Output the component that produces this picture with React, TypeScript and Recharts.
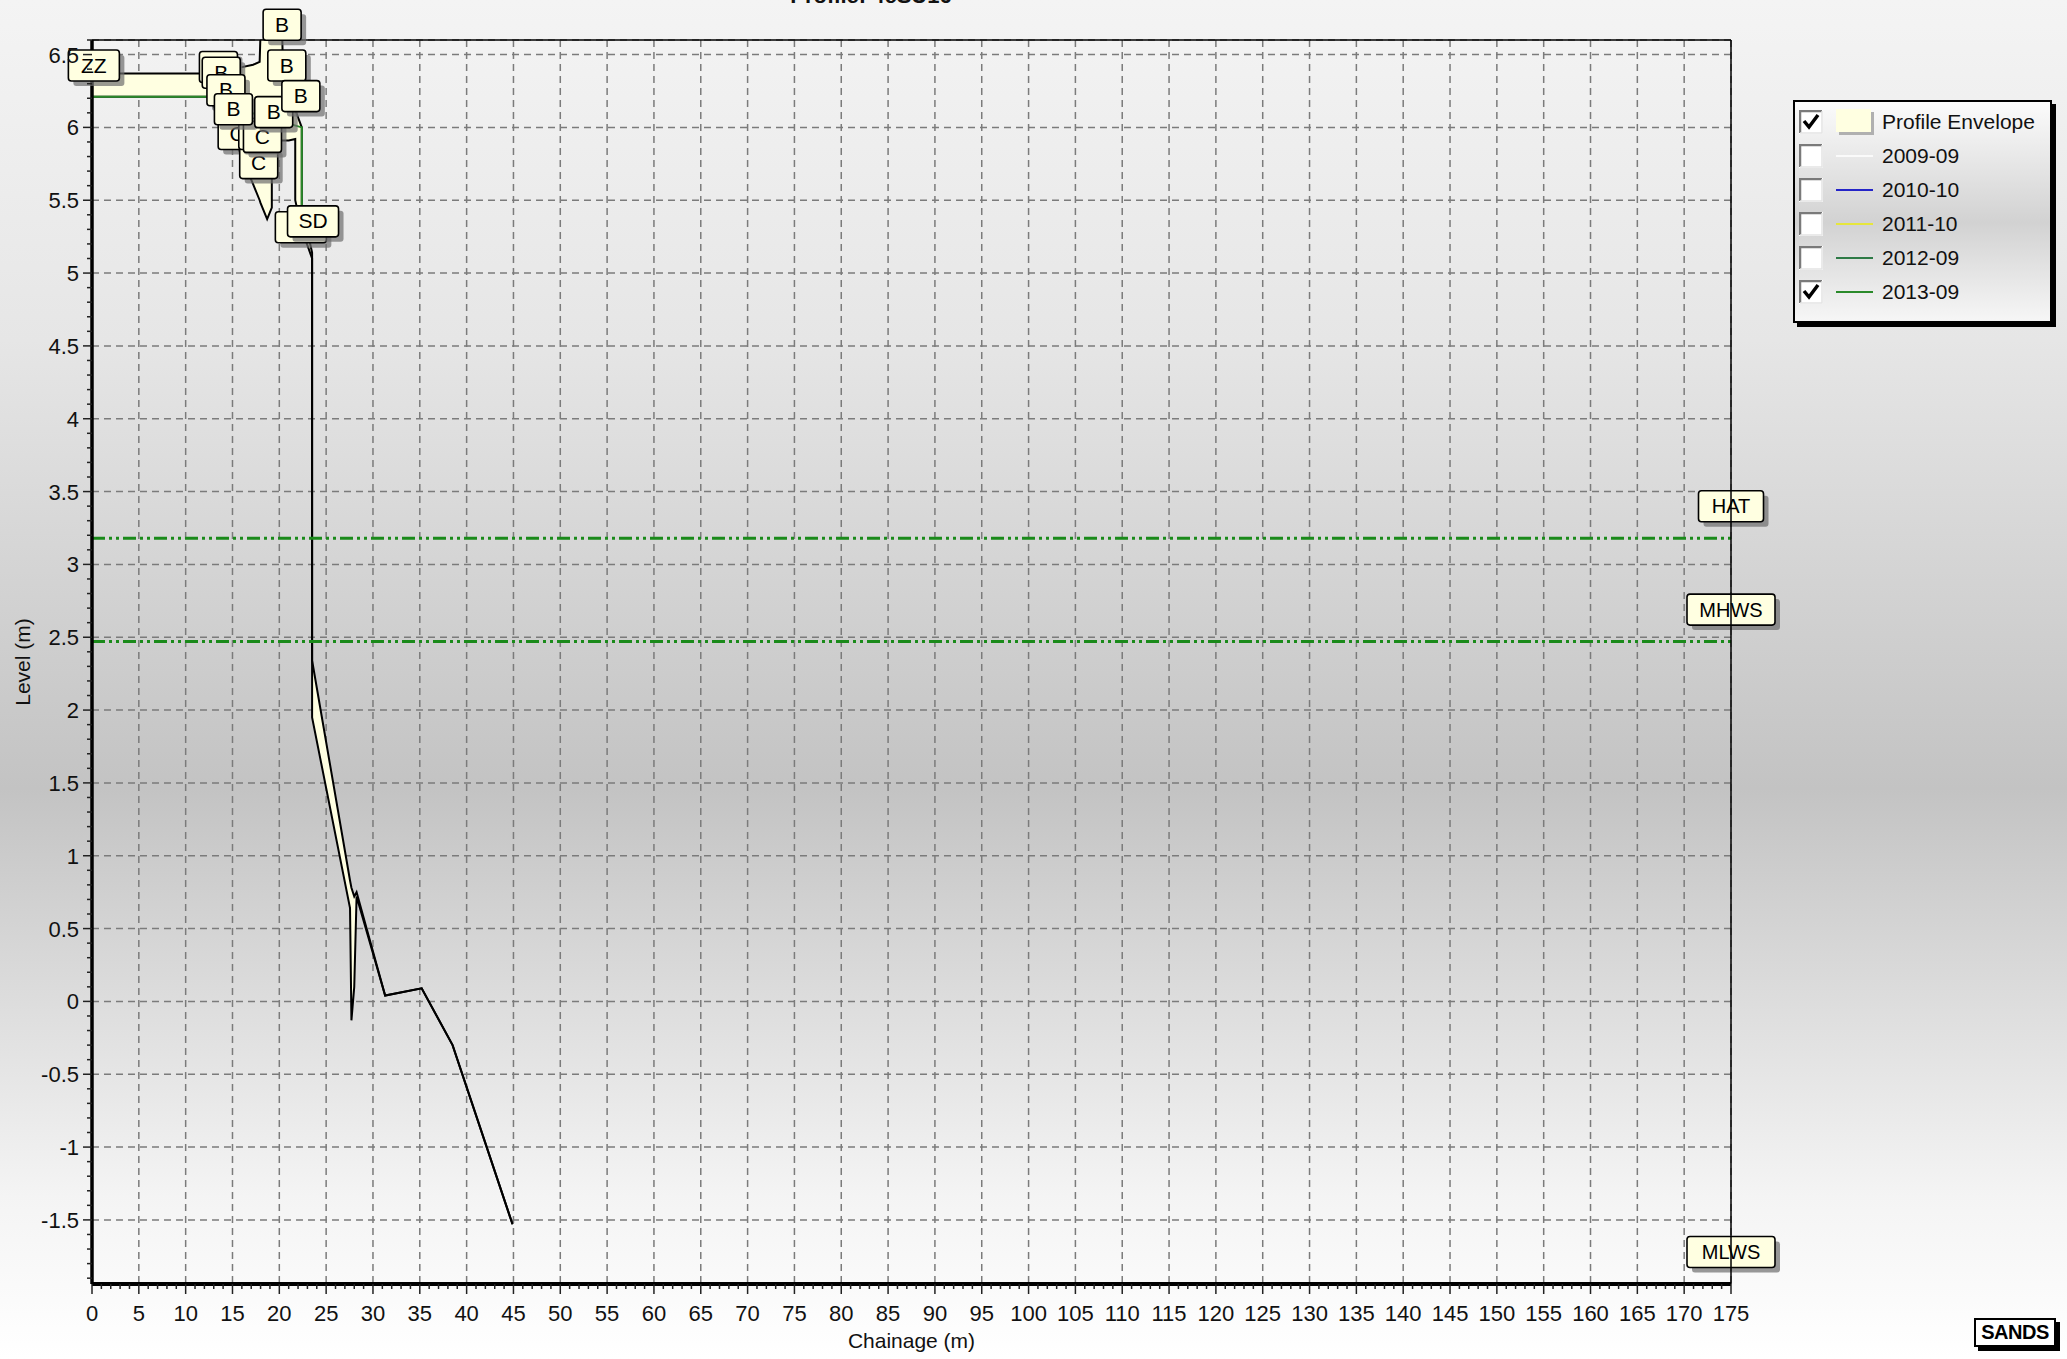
import React from 'react';
import {
  ComposedChart,
  Area,
  Line,
  XAxis,
  YAxis,
  CartesianGrid,
  ReferenceLine,
  ReferenceDot,
} from 'recharts';

const W = 2067;
const H = 1359;

// axis ticks
const chainageTicks = [
  0, 5, 10, 15, 20, 25, 30, 35, 40, 45, 50, 55, 60, 65, 70, 75, 80, 85, 90,
  95, 100, 105, 110, 115, 120, 125, 130, 135, 140, 145, 150, 155, 160, 165,
  170, 175,
];
const levelTicks = [
  -1.5, -1, -0.5, 0, 0.5, 1, 1.5, 2, 2.5, 3, 3.5, 4, 4.5, 5, 5.5, 6, 6.5,
];
const chainageMinorTicks = Array.from({ length: 176 }, (_, i) => i);
const levelMinorTicks = Array.from({ length: 86 }, (_, i) => (i - 19) / 10);

// profile envelope (min / max of all surveys)
const envelopeChainage = [
  0, 12.3, 15.0, 17.2, 17.9, 18.0, 18.7, 19.2, 19.2, 20.3, 20.4, 21.0, 21.7,
  21.7, 22.4, 22.4, 23.5, 23.5, 23.5, 27.55, 27.7, 28.0, 28.25, 31.3, 35.2,
  38.5, 44.9,
];
const envelopeLow = [
  6.21, 6.21, 5.95, 5.61, 5.5, 5.48, 5.37, 5.45, 5.9, 5.91, 5.91, 5.91, 5.92,
  5.5, 5.3, 5.3, 5.1, 4.25, 1.95, 0.64, -0.13, 0.1, 0.72, 0.04, 0.09, -0.3,
  -1.53,
];
const envelopeHigh = [
  6.37, 6.37, 6.4, 6.43, 6.45, 6.66, 6.66, 6.66, 6.66, 6.66, 6.37, 6.3, 6.12,
  6.12, 6.0, 5.46, 5.14, 4.9, 2.34, 0.83, 0.78, 0.72, 0.75, 0.04, 0.09, -0.3,
  -1.53,
];

// 2013-09 survey
const profileChainage = [0, 12.3, 17.0, 22.4, 22.4];
const profileLevel = [6.21, 6.21, 6.1, 6.0, 5.46];

// feature codes along the profile
const featureCodes = ['ZZ', 'B', 'B', 'B', 'B', 'C', 'C', 'C', 'C', 'B', 'B', 'B', 'B', 'SD', 'SD'];
const featureChainage = [0.2, 20.3, 13.5, 13.8, 14.3, 15.5, 17.8, 17.7, 18.2, 15.1, 19.4, 20.8, 22.3, 22.3, 23.6];
const featureLevel = [6.37, 6.65, 6.36, 6.32, 6.2, 5.9, 5.7, 5.9, 5.88, 6.07, 6.05, 6.37, 6.16, 5.26, 5.3];

// tide levels
const tideNames = ['HAT', 'MHWS', 'MLWS'];
const tideLevels = [3.18, 2.47, -1.94];

// legend
const legendNames = ['Profile Envelope', '2009-09', '2010-10', '2011-10', '2012-09', '2013-09'];
const legendColors = ['#ffffe1', '#fafafa', '#2424c8', '#e6e63c', '#2e7a46', '#2a8a2a'];
const legendChecked = [true, false, false, false, false, true];

const envelopeData = envelopeChainage.map((ch, i) => ({
  ch,
  range: [envelopeLow[i], envelopeHigh[i]],
}));
const profileData = profileChainage.map((ch, i) => ({ ch, lvl: profileLevel[i] }));

const FONT = '"Liberation Sans", Arial, sans-serif';

function XTick(props: any) {
  const { x, y, payload } = props;
  const v = payload.value;
  const major = v % 5 === 0;
  return (
    <g>
      <line x1={x} y1={y} x2={x} y2={y + (major ? 10 : 5)} stroke="#222" strokeWidth={1.5} />
      {major && (
        <text x={x} y={y + 37} textAnchor="middle" fontSize={22} fill="#111" fontFamily={FONT}>
          {v}
        </text>
      )}
    </g>
  );
}

function YTick(props: any) {
  const { x, y, payload } = props;
  const v = payload.value;
  const major = Math.abs(v * 2 - Math.round(v * 2)) < 1e-6;
  return (
    <g>
      <line x1={x} y1={y} x2={x - (major ? 9 : 5)} y2={y} stroke="#222" strokeWidth={1.5} />
      {major && (
        <text x={x - 13} y={y + 8} textAnchor="end" fontSize={22} fill="#111" fontFamily={FONT}>
          {v}
        </text>
      )}
    </g>
  );
}

function YTitle(props: any) {
  const vb = props.viewBox;
  const cx = vb.x + 22;
  const cy = vb.y + vb.height / 2;
  return (
    <text x={cx} y={cy} transform={`rotate(-90 ${cx} ${cy})`} textAnchor="middle"
      dominantBaseline="central" fontSize={21} fill="#111" fontFamily={FONT}>
      Level (m)
    </text>
  );
}

function XTitle(props: any) {
  const vb = props.viewBox;
  return (
    <text x={vb.x + vb.width / 2} y={vb.y + 56} textAnchor="middle" dominantBaseline="central"
      fontSize={21} fill="#111" fontFamily={FONT}>
      Chainage (m)
    </text>
  );
}

function Tag({ x, y, w, text, size }: { x: number; y: number; w: number; text: string; size: number }) {
  const h = 31;
  const left = x - w / 2;
  const top = y - h / 2;
  return (
    <g>
      <rect x={left + 5} y={top + 5} width={w} height={h} rx={3} fill="#6e6e6e" opacity={0.7} />
      <rect x={left} y={top} width={w} height={h} rx={3} fill="#ffffe1" stroke="#000" strokeWidth={1.6} />
      <text x={x} y={top + h / 2 + 7} textAnchor="middle" fontSize={size} fill="#000" fontFamily={FONT}>
        {text}
      </text>
    </g>
  );
}

function TideTag(props: any) {
  const vb = props.viewBox;
  const text = props.text as string;
  const w = text.length > 3 ? 88 : 65;
  return <Tag x={vb.x + vb.width} y={vb.y - 32} w={w} text={text} size={20} />;
}

function CheckBox({ checked }: { checked: boolean }) {
  return (
    <svg width={24} height={24} style={{ display: 'block' }}>
      <rect x={0} y={0} width={24} height={24} fill="#fff" />
      <path d="M1 23 V1 H23" stroke="#7a7a7a" strokeWidth={2.5} fill="none" />
      <path d="M1 23 H23 V1" stroke="#e4e4e4" strokeWidth={1.5} fill="none" />
      {checked && <path d="M5 11 L10 17 L19 5" stroke="#000" strokeWidth={3.5} fill="none" />}
    </svg>
  );
}

function LegendBox() {
  return (
    <div
      style={{
        position: 'absolute',
        left: 1793,
        top: 100,
        width: 255,
        height: 216,
        border: '2px solid #000',
        boxShadow: '4px 4px 0 #000',
        background: 'linear-gradient(180deg, #fbfbfb 0%, #d2d2d2 55%, #f6f6f6 100%)',
        paddingTop: 3,
        boxSizing: 'content-box',
      }}
    >
      {legendNames.map((name, i) => (
        <div key={name} style={{ display: 'flex', alignItems: 'center', height: 34, paddingLeft: 4 }}>
          <CheckBox checked={legendChecked[i]} />
          <div style={{ width: 37, marginLeft: 13, height: 26, position: 'relative' }}>
            {i === 0 ? (
              <div style={{ position: 'absolute', left: 0, top: 0, width: 35, height: 23, background: legendColors[0], boxShadow: '3px 3px 0 #b0b0b0' }} />
            ) : (
              <div style={{ position: 'absolute', left: 0, top: 12, width: 37, height: 2, background: legendColors[i] }} />
            )}
          </div>
          <span style={{ marginLeft: 9, fontSize: 21, fontFamily: FONT, color: '#111' }}>{name}</span>
        </div>
      ))}
    </div>
  );
}

export default function App() {
  return (
    <div
      style={{
        position: 'absolute',
        left: 0,
        top: 0,
        width: W,
        height: H,
        overflow: 'hidden',
        fontFamily: FONT,
        background:
          'linear-gradient(180deg, #f4f4f4 0%, #e6e6e6 25%, #c3c3c3 58%, #dadada 72%, #f4f4f4 88%, #ffffff 100%)',
      }}
    >
      <div
        style={{
          position: 'absolute',
          left: 0,
          width: 1742,
          top: -17,
          textAlign: 'center',
          fontSize: 22,
          fontWeight: 'bold',
          color: '#111',
        }}
      >
        Profile: 4cSU16
      </div>
      <div style={{ position: 'absolute', left: 0, top: 0 }}>
        <ComposedChart width={W} height={H} margin={{ top: 40, right: 336, bottom: 0, left: 0 }}>
          <XAxis xAxisId="grid" type="number" dataKey="ch" domain={[0, 175]} ticks={chainageTicks} hide allowDataOverflow />
          <YAxis yAxisId="grid" type="number" domain={[-1.94, 6.6]} ticks={levelTicks} hide allowDataOverflow />
          <CartesianGrid xAxisId="grid" yAxisId="grid" stroke="#7b7b7b" strokeWidth={1.5} strokeDasharray="7 5" />
          <Area
            data={envelopeData}
            dataKey="range"
            type="linear"
            fill="#ffffe1"
            fillOpacity={1}
            stroke="#000"
            strokeWidth={2}
            dot={false}
            activeDot={false}
            isAnimationActive={false}
          />
          <Line
            data={profileData}
            dataKey="lvl"
            type="linear"
            stroke="#2a8a2a"
            strokeWidth={2}
            dot={false}
            activeDot={false}
            isAnimationActive={false}
          />
          {tideNames.map((n, i) => (
            <ReferenceLine
              key={n}
              y={tideLevels[i]}
              stroke={i < 2 ? '#1a8a1a' : 'none'}
              strokeWidth={3}
              strokeDasharray="13 4 3 4 3 4"
              ifOverflow="visible"
              label={<TideTag text={n} />}
            />
          ))}
          <ReferenceLine y={6.6} stroke="#000" strokeWidth={1.5} />
          <ReferenceLine x={175} stroke="#000" strokeWidth={1.5} />
          <XAxis
            type="number"
            dataKey="ch"
            domain={[0, 175]}
            ticks={chainageMinorTicks}
            interval={0}
            tick={<XTick />}
            tickLine={false}
            tickSize={0}
            tickMargin={0}
            axisLine={{ stroke: '#000', strokeWidth: 4 }}
            height={75}
            allowDataOverflow
            label={<XTitle />}
          />
          <YAxis
            type="number"
            domain={[-1.94, 6.6]}
            ticks={levelMinorTicks}
            interval={0}
            tick={<YTick />}
            tickLine={false}
            tickSize={0}
            tickMargin={0}
            axisLine={{ stroke: '#000', strokeWidth: 3.5 }}
            width={92}
            allowDataOverflow
            label={<YTitle />}
          />
          {featureCodes.map((code, i) => (
            <ReferenceDot
              key={i}
              x={featureChainage[i]}
              y={featureLevel[i]}
              r={1}
              ifOverflow="visible"
              shape={(p: any) => (
                <Tag x={p.cx} y={p.cy - 8} w={code.length > 1 ? 51 : 38} text={code} size={21} />
              )}
            />
          ))}
        </ComposedChart>
      </div>
      <LegendBox />
      <div
        style={{
          position: 'absolute',
          left: 1974,
          top: 1318,
          width: 78,
          height: 25,
          background: '#fff',
          border: '2px solid #000',
          boxShadow: '4px 4px 0 #000',
          fontSize: 20,
          fontWeight: 'bold',
          lineHeight: '25px',
          textAlign: 'center',
          letterSpacing: -0.5,
          color: '#000',
        }}
      >
        SANDS
      </div>
    </div>
  );
}
